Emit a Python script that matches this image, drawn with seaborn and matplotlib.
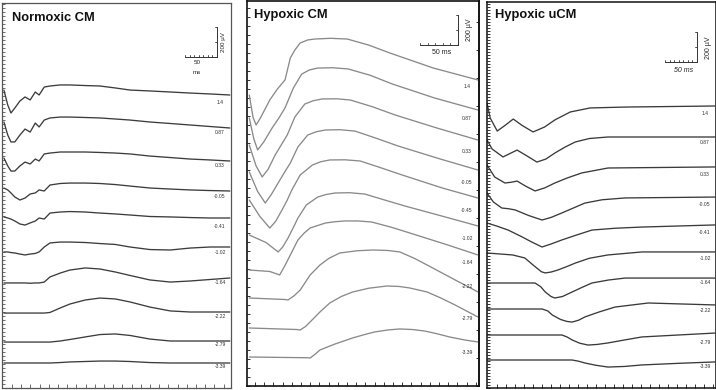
import numpy as np
import pandas as pd
import matplotlib
matplotlib.use("Agg")
import matplotlib.pyplot as plt
import seaborn as sns

# ---------------- data (time in ms, amplitude in microvolts) ----------------
PANEL_TITLES = ["Normoxic CM", "Hypoxic CM", "Hypoxic uCM"]
LABELS_NORMOXIC = ["1.4", "0.87", "0.33", "-0.05", "-0.41", "-1.02", "-1.64", "-2.22", "-2.79", "-3.39"]
LABELS_HYPOXIC = ["1.4", "0.87", "0.33", "-0.05", "-0.45", "-1.02", "-1.64", "-2.22", "-2.79", "-3.39"]
LABELS_UCM = ["1.4", "0.87", "0.33", "-0.05", "-0.41", "-1.02", "-1.64", "-2.22", "-2.79", "-3.39"]

NORMOXIC_T = [3, 9, 14, 20, 28, 36, 44, 52, 58, 66, 75, 91, 106, 130, 153, 177, 200, 231, 263, 294, 325, 356]
NORMOXIC_UV = [
    [33, -67, -120, -87, -40, -13, -33, 20, 0, 53, 60, 67, 67, 63, 60, 47, 33, 27, 20, 13, 7, 0],
    [40, -47, -93, -93, -47, -7, -27, 33, 7, 53, 67, 73, 73, 70, 67, 60, 53, 40, 30, 20, 10, 0],
    [20, -33, -67, -67, -33, -7, -20, 13, 0, 47, 53, 60, 60, 60, 57, 53, 47, 33, 23, 13, 7, 0],
    [20, 7, -13, -40, -60, -47, -20, -13, 7, 0, 40, 50, 53, 53, 50, 43, 33, 20, 13, 7, 3, 0],
    [7, 0, -7, -20, -40, -47, -33, -20, 0, -7, 33, 40, 43, 40, 33, 27, 20, 10, 7, 3, 0, 0],
    [-33, -33, -37, -40, -47, -53, -47, -43, -33, 0, 27, 33, 33, 30, 23, 17, 0, -17, -20, -7, 0, 0],
    [-33, -33, -33, -33, -33, -33, -35, -33, -33, -27, 7, 33, 53, 67, 60, 40, 17, -13, -27, -20, -10, 0],
    [-7, -7, -7, -7, -7, -7, -7, -7, -7, -7, -3, 27, 53, 80, 93, 87, 67, 33, 7, 0, 0, 0],
    [-7, -7, -7, -7, -7, -7, -7, -7, -7, -7, -7, 0, 10, 27, 43, 47, 37, 13, 0, 0, 0, 0],
    [0, 0, 0, 0, 0, 0, 0, 0, 0, 0, 0, 3, 7, 10, 13, 13, 10, 3, 0, 0, 0, 0],
]

HYPOXIC_T = [
    [3, 8, 12, 18, 30, 40, 50, 57, 63, 70, 80, 89, 110, 132, 160, 188, 245, 304],
    [3, 9, 14, 22, 33, 42, 50, 61, 72, 82, 93, 113, 133, 162, 191, 247, 304],
    [3, 12, 20, 28, 37, 45, 53, 63, 76, 87, 99, 118, 136, 165, 195, 250, 304],
    [3, 14, 24, 32, 41, 49, 57, 67, 80, 91, 103, 122, 142, 170, 199, 254, 304],
    [3, 17, 30, 38, 46, 53, 59, 70, 86, 97, 109, 129, 149, 176, 204, 257, 304],
    [3, 25, 41, 47, 54, 61, 67, 78, 93, 104, 116, 135, 155, 180, 208, 261, 304],
    [3, 30, 43, 50, 57, 67, 75, 83, 103, 116, 129, 146, 164, 190, 214, 264, 304],
    [3, 50, 54, 62, 70, 83, 96, 108, 122, 145, 166, 185, 201, 220, 237, 274, 304],
    [3, 65, 70, 77, 83, 96, 109, 124, 139, 160, 184, 200, 214, 237, 255, 274, 304],
    [3, 80, 83, 90, 96, 116, 139, 155, 168, 185, 201, 218, 234, 250, 267, 287, 304],
]
HYPOXIC_UV = [
    [0, -150, -200, -150, -33, 40, 100, 247, 300, 347, 367, 373, 378, 373, 333, 280, 180, 100],
    [0, -140, -213, -160, -67, 0, 67, 200, 293, 320, 333, 335, 327, 285, 227, 133, 53],
    [0, -140, -213, -160, -67, 0, 67, 187, 273, 295, 307, 308, 300, 255, 200, 113, 33],
    [0, -130, -207, -150, -73, -5, 60, 167, 247, 268, 280, 282, 273, 225, 173, 87, 13],
    [0, -110, -187, -140, -67, 0, 67, 167, 233, 255, 267, 268, 260, 215, 167, 80, 13],
    [0, -50, -113, -80, -20, 50, 113, 200, 253, 270, 280, 282, 273, 235, 193, 120, 60],
    [0, -10, -33, 30, 100, 200, 245, 280, 313, 322, 327, 327, 320, 285, 247, 167, 100],
    [0, -10, -13, 15, 53, 153, 220, 265, 300, 315, 320, 317, 307, 265, 220, 120, 40],
    [0, -10, -13, 10, 40, 107, 167, 210, 240, 265, 280, 277, 267, 240, 200, 153, 73],
    [0, -5, -7, 20, 47, 87, 127, 150, 167, 180, 187, 183, 173, 155, 133, 113, 100],
]

UCM_T = [
    [0, 5, 16, 28, 41, 55, 72, 90, 106, 130, 161, 216, 356],
    [0, 8, 25, 36, 47, 60, 78, 92, 106, 122, 138, 160, 189, 356],
    [0, 12, 28, 38, 47, 60, 75, 90, 106, 125, 148, 189, 356],
    [0, 10, 23, 34, 44, 65, 86, 100, 117, 135, 153, 180, 216, 356],
    [0, 15, 33, 44, 55, 70, 86, 100, 117, 140, 164, 200, 242, 356],
    [0, 40, 59, 72, 85, 91, 100, 111, 125, 138, 160, 189, 242, 356],
    [0, 75, 84, 91, 100, 106, 118, 133, 148, 164, 190, 216, 356],
    [0, 86, 95, 102, 115, 125, 133, 143, 153, 175, 200, 252, 356],
    [0, 117, 125, 133, 145, 158, 172, 189, 215, 242, 356],
    [0, 133, 143, 153, 170, 189, 215, 242, 300, 356],
]
UCM_UV = [
    [0, -100, -187, -150, -107, -150, -193, -160, -113, -60, -33, -27, -20],
    [0, -60, -113, -90, -67, -100, -147, -127, -87, -47, -13, 10, 20, 20],
    [0, -80, -120, -115, -107, -140, -173, -153, -120, -87, -53, -20, -13],
    [0, -60, -100, -105, -113, -150, -180, -163, -133, -100, -67, -45, -33, -27],
    [0, -20, -47, -70, -93, -127, -160, -140, -113, -80, -47, -35, -27, -13],
    [0, -13, -33, -80, -125, -133, -127, -113, -90, -67, -35, -13, 7, 7],
    [0, 0, -25, -60, -90, -100, -90, -60, -30, 0, 20, 33, 33],
    [0, 0, -13, -40, -70, -83, -87, -75, -53, -20, 13, 40, 27],
    [0, 0, -13, -33, -55, -67, -63, -53, -33, -13, 13],
    [0, 0, -8, -20, -35, -47, -43, -33, -22, -13],
]

SCALE_MS = 50
SCALE_UV = 200

# ---------------- layout (pixels) ----------------
W, H, DPI = 716, 390, 100
UV_PX = 200 / 30.0
BASE_NORMOXIC = [95, 128, 161, 191, 218, 247, 278, 312, 341, 363]
BASE_HYPOXIC = [95, 118, 145, 172, 200, 235, 270, 298, 328, 357]
BASE_UCM = [103, 140, 165, 193, 223, 253, 283, 309, 335, 360]
LBL_Y_NORMOXIC = [103, 133, 165, 197, 226, 252, 283, 317, 345, 367]
LBL_Y_HYPOXIC = [87, 118, 152, 182, 210, 238, 262, 287, 318, 353]
LBL_Y_UCM = [113, 143, 175, 205, 233, 258, 283, 310, 343, 367]

sns.set_style("white")
plt.rcParams["font.family"] = ["Liberation Sans", "DejaVu Sans"]

fig = plt.figure(figsize=(W / DPI, H / DPI), dpi=DPI)
fig.patch.set_facecolor("white")


def px_axes(x0, y0, x1, y1, ms_px):
    ax = fig.add_axes([x0 / W, 1 - y1 / H, (x1 - x0) / W, (y1 - y0) / H])
    ax.set_xlim(0, (x1 - x0) * ms_px)
    ax.set_ylim(-y1 * UV_PX, -y0 * UV_PX)
    ax.set_facecolor("white")
    return ax


def draw_traces(ax, times, values, bases, color):
    rows = []
    for i, (t, v, b) in enumerate(zip(times, values, bases)):
        for tt, vv in zip(t, v):
            rows.append({"trace": i, "t": tt, "y": -b * UV_PX + vv})
    df = pd.DataFrame(rows)
    sns.lineplot(data=df, x="t", y="y", units="trace", estimator=None, sort=False,
                 color=color, lw=0.95, ax=ax, legend=False)
    ax.set_xlabel("")
    ax.set_ylabel("")


def style_frame(ax, color, lw, x0, y0, x1, y1, ms_px, xstart, xstep, ystep, ylen):
    for s in ax.spines.values():
        s.set_visible(True)
        s.set_color(color)
        s.set_linewidth(lw)
    xmax = (x1 - x0) * ms_px
    ax.set_xticks(np.arange((xstart - x0) * ms_px, xmax, xstep * ms_px))
    ax.set_yticks(np.arange(-y1 * UV_PX, -y0 * UV_PX, ystep * UV_PX))
    ax.tick_params(axis="x", direction="in", length=3.2, width=0.6, colors=color,
                   labelbottom=False, bottom=True)
    ax.tick_params(axis="y", direction="in", length=ylen, width=0.6, colors=color,
                   labelleft=False, left=True)


def scale_bar(ax, x0, ms_px, cx, cy, nticks, label_xy, label_ms, italic, vlabel_xy, fs):
    # corner (cx, cy) in pixels: bottom-right of the L-shaped bar
    xr = (cx - x0) * ms_px
    yb = -cy * UV_PX
    ax.plot([xr - SCALE_MS, xr], [yb, yb], color="#333333", lw=0.7)
    ax.plot([xr, xr], [yb, yb + SCALE_UV], color="#333333", lw=0.7)
    for tx in np.linspace(xr - SCALE_MS, xr, nticks):
        ax.plot([tx, tx], [yb, yb + 2.5 * UV_PX], color="#333333", lw=0.6)
    for ty in np.linspace(yb, yb + SCALE_UV, 3):
        ax.plot([xr - 2 * ms_px, xr], [ty, ty], color="#333333", lw=0.6)
    fig.text(label_xy[0] / W, 1 - label_xy[1] / H, label_ms, fontsize=fs,
             ha="center", va="center", style="italic" if italic else "normal", color="#222222")
    fig.text(vlabel_xy[0] / W, 1 - vlabel_xy[1] / H, f"{SCALE_UV} \u00b5V", fontsize=fs,
             rotation=90, ha="center", va="center", color="#222222")


def labels(xc, ys, texts, fs=3.6):
    for y, t in zip(ys, texts):
        fig.text(xc / W, 1 - y / H, t, fontsize=fs, ha="center", va="center", color="#333333")


# ---- Panel 1: Normoxic CM ----
L = (2, 3, 231, 388)
ms_l = 50 / 32.0
ax1 = px_axes(*L, ms_l)
draw_traces(ax1, [NORMOXIC_T] * len(NORMOXIC_UV), NORMOXIC_UV, BASE_NORMOXIC, "#3c3c3c")
style_frame(ax1, "#555555", 0.9, *L, ms_l, xstart=12, xstep=9.2, ystep=4, ylen=2.0)
scale_bar(ax1, L[0], ms_l, 217, 57, 8, (197, 63), "50", False, (224, 42), 4.5)
fig.text(197 / W, 1 - 72 / H, "ms", fontsize=4.5, ha="center", va="center", color="#222222")
labels(220, LBL_Y_NORMOXIC, LABELS_NORMOXIC)
fig.text(12 / W, 1 - 18 / H, PANEL_TITLES[0], fontsize=9.3, fontweight="bold",
         ha="left", va="center", color="#111111")

# ---- Panel 2: Hypoxic CM ----
M = (247, 1, 479, 386)
ms_m = 50 / 38.0
ax2 = px_axes(*M, ms_m)
draw_traces(ax2, HYPOXIC_T, HYPOXIC_UV, BASE_HYPOXIC, "#8a8a8a")
style_frame(ax2, "#111111", 1.2, *M, ms_m, xstart=255, xstep=9.2, ystep=9, ylen=2.0)
sec = ax2.secondary_yaxis("right")
sec.set_yticks(np.arange(-M[3] * UV_PX, -M[1] * UV_PX, 28 * UV_PX))
sec.tick_params(direction="in", length=2.5, width=0.6, labelright=False, colors="#111111")
sec.spines["right"].set_linewidth(1.2)
scale_bar(ax2, M[0], ms_m, 458, 45, 6, (442, 53), "50 ms", False, (469, 30), 5)
labels(467, LBL_Y_HYPOXIC, LABELS_HYPOXIC)
fig.text(254 / W, 1 - 15 / H, PANEL_TITLES[1], fontsize=9.3, fontweight="bold",
         ha="left", va="center", color="#111111")

# ---- Panel 3: Hypoxic uCM ----
R = (487, 2, 716, 388)
ms_r = 50 / 32.0
ax3 = px_axes(*R, ms_r)
draw_traces(ax3, UCM_T, UCM_UV, BASE_UCM, "#3a3a3a")
style_frame(ax3, "#111111", 1.1, *R, ms_r, xstart=497, xstep=9.0, ystep=3, ylen=2.0)
scale_bar(ax3, R[0], ms_r, 697, 62, 8, (684, 70), "50 ms", True, (708, 48), 5)
labels(705, LBL_Y_UCM, LABELS_UCM)
fig.text(495 / W, 1 - 15 / H, PANEL_TITLES[2], fontsize=9.3, fontweight="bold",
         ha="left", va="center", color="#111111")

fig.savefig("out.png", dpi=DPI, facecolor="white")
